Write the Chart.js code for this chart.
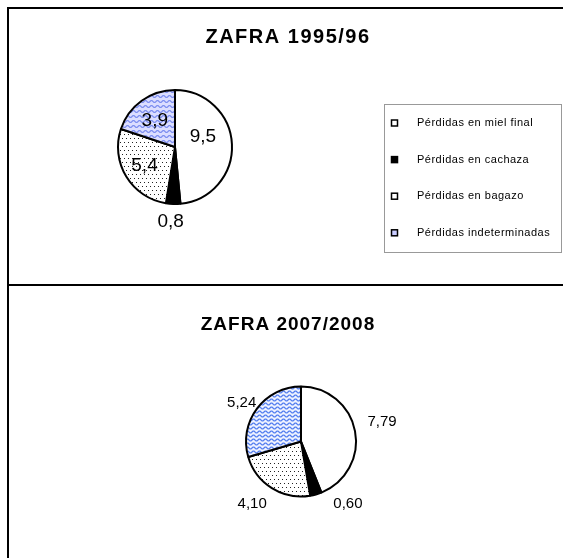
<!DOCTYPE html>
<html>
<head>
<meta charset="utf-8">
<script src="https://cdn.jsdelivr.net/npm/chart.js@4.4.1/dist/chart.umd.min.js"></script>
<style>
	body { margin: 0; background: #fff; width: 563px; height: 558px; overflow: hidden; position: relative; }
	.line { position: absolute; background: #000; }
	canvas { position: absolute; }
</style>
</head>
<body>
<div class="line" style="left:7px;top:7px;width:556px;height:2px"></div>
<div class="line" style="left:7px;top:7px;width:2px;height:551px"></div>
<div class="line" style="left:7px;top:284px;width:556px;height:2px"></div>
<canvas id="zafra1" width="554" height="275" style="left:9px;top:9px"></canvas>
<canvas id="zafra2" width="554" height="272" style="left:9px;top:286px"></canvas>
<script>
//chart data
var categories = [ "Pérdidas en miel final", "Pérdidas en cachaza", "Pérdidas en bagazo", "Pérdidas indeterminadas" ];
var zafra1996 = [ 9.5, 0.8, 5.4, 3.9 ];
var zafra2008 = [ 7.79, 0.60, 4.10, 5.24 ];
var titles = [ "ZAFRA 1995/96", "ZAFRA 2007/2008" ];

Chart.defaults.font.family = '"Liberation Sans", Arial, sans-serif';

//fill patterns like the excel ones
makeDots = function(){
	var c = document.createElement("canvas");
	c.width = 4; c.height = 8;
	var x = c.getContext("2d");
	x.fillStyle = "#fff";
	x.fillRect( 0, 0, 4, 8 );
	x.fillStyle = "#222";
	x.fillRect( 1, 1, 1, 1 );
	x.fillRect( 3, 5, 1, 1 );
	return x.createPattern( c, "repeat" );
};
makeWaves = function( bg, fg, h ){
	var c = document.createElement("canvas");
	c.width = 6; c.height = h;
	var x = c.getContext("2d");
	x.fillStyle = bg;
	x.fillRect( 0, 0, 6, h );
	x.strokeStyle = fg;
	x.lineWidth = 1.2;
	x.beginPath();
	for( var i = -1; i <= 7; i += 0.5 ){
		var y = h / 2 + Math.sin( i / 6 * Math.PI * 2 );
		if( i == -1 ) x.moveTo( i, y ); else x.lineTo( i, y );
	}
	x.stroke();
	return x.createPattern( c, "repeat" );
};

//titles, value labels and the boxed legend
var zafraText = {
	id: "zafraText",
	afterDatasetsDraw: function( chart, args, opts ){
		var ctx = chart.ctx;
		ctx.save();
		ctx.fillStyle = "#000";
		ctx.textAlign = "center";
		ctx.textBaseline = "middle";

		ctx.font = "bold " + opts.titleSize + 'px "Liberation Sans", Arial, sans-serif';
		ctx.letterSpacing = opts.titleSpacing;
		ctx.fillText( opts.title, opts.titleX, opts.titleY );
		ctx.letterSpacing = "0px";

		//value labels from the arcs
		ctx.font = opts.labelSize + 'px "Liberation Sans", Arial, sans-serif';
		var meta = chart.getDatasetMeta(0);
		var values = chart.data.datasets[0].data;
		meta.data.forEach( function( arc, i ){
			var mid = ( arc.startAngle + arc.endAngle ) / 2;
			var p = opts.labelPos[i];
			var r = arc.outerRadius * p[0];
			var txt = values[i].toFixed( opts.decimals ).replace( ".", "," );
			ctx.fillText( txt, arc.x + Math.cos(mid) * r + p[1], arc.y + Math.sin(mid) * r + p[2] );
		});

		if( opts.legend ){
			var L = opts.legend;
			ctx.strokeStyle = "#999";
			ctx.lineWidth = 1;
			ctx.strokeRect( L.x + 0.5, L.y + 0.5, L.w, L.h );
			ctx.font = '11px "Liberation Sans", Arial, sans-serif';
			ctx.letterSpacing = "0.5px";
			ctx.textAlign = "left";
			chart.data.labels.forEach( function( lab, i ){
				var y = L.firstY + i * L.step;
				ctx.fillStyle = L.swatch[i];
				ctx.fillRect( L.markX - 3, y - 3, 6, 6 );
				ctx.strokeStyle = "#000";
				ctx.lineWidth = 1.5;
				ctx.strokeRect( L.markX - 3, y - 3, 6, 6 );
				ctx.fillStyle = "#000";
				ctx.fillText( lab, L.textX, y );
			});
		}
		ctx.restore();
	}
};

buildPie = function( id, values, radius, padding, text ){
	return new Chart( document.getElementById(id), {
		type: "pie",
		data: {
			labels: categories,
			datasets: [{
				data: values,
				backgroundColor: text.fills,
				borderColor: "#000",
				borderWidth: 2,
				radius: radius
			}]
		},
		options: {
			responsive: false,
			animation: false,
			layout: { padding: padding },
			plugins: {
				legend: { display: false },
				title: { display: false },
				tooltip: { enabled: false },
				zafraText: text
			}
		},
		plugins: [ zafraText ]
	});
};

var dots = makeDots();

buildPie( "zafra1", zafra1996, 57, { left: 0, right: 222, top: 2, bottom: 1 }, {
	title: titles[0], titleX: 279, titleY: 28, titleSize: 20, titleSpacing: "1.5px",
	fills: [ "#fff", "#000", dots, makeWaves( "#dcdeff", "#7d8ef0", 5 ) ],
	labelSize: 19, decimals: 1,
	labelPos: [ [0.49, 0, -9], [1.3, -2, 0.5], [0.626, 0, 0], [0.575, -1, 0.5] ],
	legend: {
		x: 375, y: 95, w: 177, h: 148,
		markX: 385.5, textX: 408, firstY: 114, step: 36.6,
		swatch: [ "#fff", "#000", "#fff", "#c9ccff" ]
	}
});

buildPie( "zafra2", zafra2008, 55, { left: 30, right: 0, top: 39, bottom: 0 }, {
	title: titles[1], titleX: 279, titleY: 39, titleSize: 19, titleSpacing: "1px",
	fills: [ "#fff", "#000", dots, makeWaves( "#f0f3ff", "#4f7bef", 4 ) ],
	labelSize: 15, decimals: 2,
	labelPos: [ [1.5, 0, -4], [1.2, 29, -1], [1.42, -7.5, -3.5], [1.29, -2.5, 3.5] ],
	legend: null
});
</script>
</body>
</html>
